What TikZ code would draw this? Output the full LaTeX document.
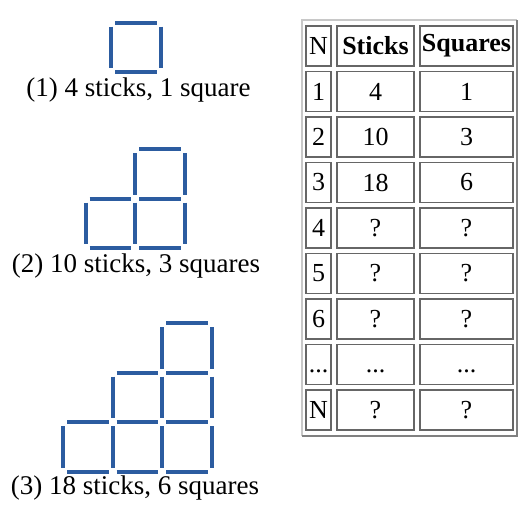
\documentclass[tikz,border=0pt]{standalone}
\usepackage{fontspec}
\setmainfont{Liberation Serif}
\usepackage{xcolor}
\usepackage{tikz}

\definecolor{stickblue}{RGB}{44,92,160}
\definecolor{framelight}{RGB}{200,200,200}
\definecolor{framedark}{RGB}{128,128,128}

\begin{document}
\begin{tikzpicture}[x=1pt,y=-1pt]
	\useasboundingbox (0,0) rectangle (520,504);
	\tikzstyle{stick}=[line width=4pt, color=stickblue]
	% figure (1)
	\draw[stick] (115,22.5)--(156.5,22.5) (115,72)--(156.5,72)
		(111,26.5)--(111,68) (160.5,26.5)--(160.5,68);
	% figure (2)
	\draw[stick] (139,149)--(180.5,149)
		(135,153)--(135,194.5) (184.5,153)--(184.5,194.5)
		(89.5,198.5)--(131,198.5) (139,198.5)--(180.5,198.5)
		(85.5,202.5)--(85.5,244) (135,202.5)--(135,244) (184.5,202.5)--(184.5,244)
		(89.5,248)--(131,248) (139,248)--(180.5,248);
	% figure (3)
	\draw[stick] (166,323)--(207.5,323)
		(162,327)--(162,368.5) (211.5,327)--(211.5,368.5)
		(116.5,372.5)--(158,372.5) (166,372.5)--(207.5,372.5)
		(112.5,376.5)--(112.5,418) (162,376.5)--(162,418) (211.5,376.5)--(211.5,418)
		(67,422)--(108.5,422) (116.5,422)--(158,422) (166,422)--(207.5,422)
		(63,426)--(63,467.5) (112.5,426)--(112.5,467.5) (162,426)--(162,467.5) (211.5,426)--(211.5,467.5)
		(67,471.5)--(108.5,471.5) (116.5,471.5)--(158,471.5) (166,471.5)--(207.5,471.5);
	\tikzstyle{every node}=[font=\fontsize{27}{30}\selectfont, inner sep=0pt];
	\node (l1) at (138.5,90) {(1) 4 sticks, 1 square};
	\node (l2) at (136,266) {(2) 10 sticks, 3 squares};
	\node (l3) at (135,488) {(3) 18 sticks, 6 squares};
	% table frame
	\draw[framelight, line width=2pt] (302,436)--(302,20)--(517,20);
	\draw[framedark, line width=2pt] (302,436)--(517,436)--(517,20);
	\tikzstyle{every node}=[draw=black!60, line width=1.5pt, minimum height=40pt, inner sep=0pt, font=\fontsize{26}{30}\selectfont];
	\node[minimum width=25pt] (n0) at (318.5,46) {N};
	\node[minimum width=77pt] (t0) at (375.5,46) {\textbf{Sticks}};
	\node[minimum width=93pt] (q0) at (466.5,46) {\textbf{Squares}};
	\node[minimum width=25pt] (n1) at (318.5,91.5) {1};
	\node[minimum width=77pt] (t1) at (375.5,91.5) {4};
	\node[minimum width=93pt] (q1) at (466.5,91.5) {1};
	\node[minimum width=25pt] (n2) at (318.5,137) {2};
	\node[minimum width=77pt] (t2) at (375.5,137) {10};
	\node[minimum width=93pt] (q2) at (466.5,137) {3};
	\node[minimum width=25pt] (n3) at (318.5,182.5) {3};
	\node[minimum width=77pt] (t3) at (375.5,182.5) {18};
	\node[minimum width=93pt] (q3) at (466.5,182.5) {6};
	\node[minimum width=25pt] (n4) at (318.5,228) {4};
	\node[minimum width=77pt] (t4) at (375.5,228) {?};
	\node[minimum width=93pt] (q4) at (466.5,228) {?};
	\node[minimum width=25pt] (n5) at (318.5,273.5) {5};
	\node[minimum width=77pt] (t5) at (375.5,273.5) {?};
	\node[minimum width=93pt] (q5) at (466.5,273.5) {?};
	\node[minimum width=25pt] (n6) at (318.5,319) {6};
	\node[minimum width=77pt] (t6) at (375.5,319) {?};
	\node[minimum width=93pt] (q6) at (466.5,319) {?};
	\node[minimum width=25pt] (n7) at (318.5,364.5) {\vphantom{1}...};
	\node[minimum width=77pt] (t7) at (375.5,364.5) {\vphantom{1}...};
	\node[minimum width=93pt] (q7) at (466.5,364.5) {\vphantom{1}...};
	\node[minimum width=25pt] (n8) at (318.5,410) {N};
	\node[minimum width=77pt] (t8) at (375.5,410) {?};
	\node[minimum width=93pt] (q8) at (466.5,410) {?};
\end{tikzpicture}
\end{document}
